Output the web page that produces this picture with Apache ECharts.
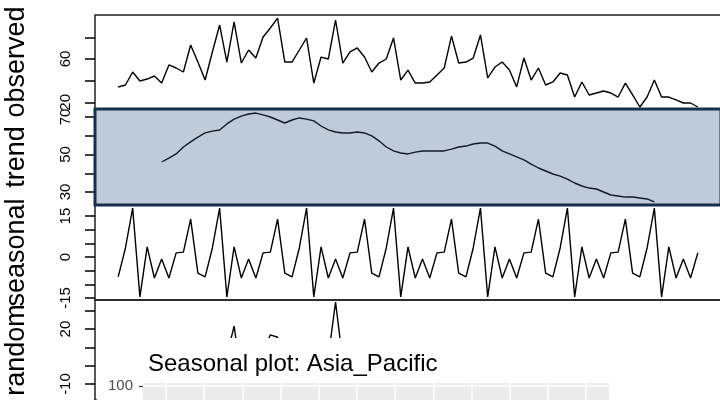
<!DOCTYPE html>
<html><head><meta charset="utf-8">
<script src="https://cdn.jsdelivr.net/npm/echarts@6/dist/echarts.min.js"></script>
<style>html,body{margin:0;padding:0;background:#fff}#c{width:720px;height:400px}</style>
</head><body><div id="c"></div>
<script>
// ---- data (monthly index 0..80) ----
const observed = [34.2, 36.0, 48.0, 39.7, 41.5, 44.3, 37.8, 54.5, 51.7, 48.0,
 72.9, 57.2, 40.6, 66.5, 91.4, 57.2, 94.2, 56.3, 68.3, 60.9,
 80.3, 88.6, 97.8, 57.2, 57.2, 68.3, 79.4, 37.8, 61.8, 60.0,
 96.0, 56.3, 66.5, 70.2, 61.8, 48.0, 56.3, 60.0, 79.4, 40.6,
 49.8, 37.8, 37.8, 38.8, 45.2, 51.7, 81.2, 56.3, 57.2, 60.9,
 82.2, 42.5, 52.6, 57.2, 49.8, 34.2, 60.9, 40.6, 51.7, 36.0,
 38.8, 47.1, 45.2, 24.9, 38.8, 26.8, 28.6, 30.5, 28.6, 24.9,
 37.8, 26.8, 15.7, 24.9, 40.6, 24.9, 24.9, 22.2, 19.4, 19.4, 15.7];
const trend = [null, null, null, null, null, null,
 46.0, 48.1, 50.3, 54.0, 56.7, 59.3, 61.5, 62.5, 63.1, 66.3,
 68.9, 70.5, 71.6, 72.1, 71.1, 70.0, 68.4, 66.8, 68.4, 69.5,
 68.9, 67.9, 65.2, 63.1, 62.0, 61.5, 61.5, 62.0, 61.5, 59.9,
 57.3, 54.0, 51.9, 50.8, 50.3, 51.3, 51.9, 51.9, 51.9, 51.9,
 52.9, 54.0, 54.5, 55.6, 56.1, 56.1, 54.5, 51.9, 50.3, 48.7,
 47.1, 44.9, 42.8, 41.2, 39.6, 38.5, 36.9, 34.8, 33.2, 32.1,
 31.6, 30.0, 28.4, 27.9, 27.3, 27.3, 26.8, 26.3, 24.7,
 null, null, null, null, null, null];
const seasonal = [
 -7.3, 3.3, 17.9, -14.6, 3.7, -7.7, -0.7, -7.7, 1.5, 1.8, 13.9, -5.9,
 -7.3, 3.3, 17.9, -14.6, 3.7, -7.7, -0.7, -7.7, 1.5, 1.8, 13.9, -5.9,
 -7.3, 3.3, 17.9, -14.6, 3.7, -7.7, -0.7, -7.7, 1.5, 1.8, 13.9, -5.9,
 -7.3, 3.3, 17.9, -14.6, 3.7, -7.7, -0.7, -7.7, 1.5, 1.8, 13.9, -5.9,
 -7.3, 3.3, 17.9, -14.6, 3.7, -7.7, -0.7, -7.7, 1.5, 1.8, 13.9, -5.9,
 -7.3, 3.3, 17.9, -14.6, 3.7, -7.7, -0.7, -7.7, 1.5, 1.8, 13.9, -5.9,
 -7.3, 3.3, 17.9, -14.6, 3.7, -7.7, -0.7, -7.7, 1.5];
const random = [null, null, null, null, null, null,
 -7.5, 14.1, -0.1, -7.8, 2.3, 3.8, -13.6, 0.7, 10.4, 5.5,
 21.6, -6.5, -2.6, -3.5, 7.7, 16.8, 15.5, -3.7, -3.9, -4.5,
 -7.4, -15.5, -7.1, 4.6, 34.7, 2.5, 3.5, 6.4, -13.6, -6.0,
 6.3, 2.7, 9.6, 4.4, -4.2, -5.8, -13.4, -5.4, -8.2, -2.0,
 14.4, 8.2, 10.0, 2.0, 8.2, 1.0, -5.6, 13.0, 0.2, -6.8,
 12.3, -6.1, -5.0, 0.7, 6.5, 5.3, -9.6, 4.7, 1.9, 2.4,
 -2.3, 8.2, -1.3, -4.8, -3.4, 5.4, -3.8, -4.7, -2.0,
 null, null, null, null, null, null];
// tick values / labels
const obsTicks = [20, 40, 60, 80], obsLabels = [20, 60];
const trendTicks = [30, 40, 50, 60, 70], trendLabels = [30, 50, 70];
const seasTicks = [-15, -10, -5, 0, 5, 10, 15], seasLabels = [-15, 0, 15];
const randTicks = [-10, 0, 10, 20, 30], randLabels = [-10, 20];
const months = [1, 2, 3, 4, 5, 6, 7, 8, 9, 10, 11, 12];
const spTicks = [100];
const panelNames = ['observed', 'trend', 'seasonal', 'random'];

const FF = '"Liberation Sans", Arial, sans-serif';
const toPairs = a => a.map((v, i) => [i, v]);

const L = 95, W = 626;
const G = {show: true, outerBoundsMode: 'none', containLabel: false};
const grids = [
  Object.assign({left: L, top: 15, width: W, height: 94, borderColor: '#222', borderWidth: 1.5}, G),
  Object.assign({left: L, top: 109, width: W, height: 96, backgroundColor: '#c0cbd9', borderColor: '#15304f', borderWidth: 3, z: 1}, G),
  Object.assign({left: L, top: 205, width: W, height: 95, borderColor: '#222', borderWidth: 1.5}, G),
  Object.assign({left: L, top: 300, width: W, height: 100, borderColor: '#222', borderWidth: 1.5}, G),
  Object.assign({left: 143, top: 383, width: 466, height: 93, backgroundColor: '#ebebeb', borderWidth: 0, z: 150}, G)
];
function xA(g) {
  return {type: 'value', gridIndex: g, min: -3.2, max: 83.2, show: false};
}
function rY(g, min, max, ticks, labels, name) {
  return {
    type: 'value', gridIndex: g, min, max, position: 'left',
    axisLine: {show: false, onZero: false}, splitLine: {show: false},
    axisTick: {show: true, length: 10, customValues: ticks, lineStyle: {color: '#000', width: 1.5}},
    axisLabel: {show: true, rotate: 90, margin: 22, fontSize: 15, color: '#000', fontFamily: FF, customValues: labels},
    name, nameLocation: 'middle', nameGap: 65, nameRotate: 90,
    nameTextStyle: {fontSize: 27, color: '#000', fontFamily: FF}
  };
}
const lineS = (xi, data, color) => ({
  type: 'line', xAxisIndex: xi, yAxisIndex: xi, data: toPairs(data), showSymbol: false,
  lineStyle: {color, width: 1.4}, clip: true, animation: false, z: 2
});

const option = {
  animation: false,
  title: {text: 'Seasonal plot: Asia_Pacific', left: 143, top: 347, z: 160,
    textStyle: {fontSize: 24, fontWeight: 'normal', color: '#000', fontFamily: FF}},
  grid: grids,
  xAxis: [xA(0), xA(1), xA(2), xA(3),
    {type: 'value', gridIndex: 4, min: 0.4, max: 12.6, z: 150,
     axisLine: {show: false}, axisTick: {show: false, customValues: months},
     axisLabel: {show: false, customValues: months},
     splitLine: {show: true, lineStyle: {color: '#fff', width: 1.5}}}],
  yAxis: [
    rY(0, 13.85, 100.62, obsTicks, obsLabels, panelNames[0]),
    rY(1, 23.07, 74.27, trendTicks, trendLabels, panelNames[1]),
    rY(2, -15.75, 19.05, seasTicks, seasLabels, panelNames[2]),
    rY(3, -18.71, 35.84, randTicks, randLabels, panelNames[3]),
    {type: 'value', gridIndex: 4, min: 40, max: 102, z: 150,
     axisLine: {show: false, onZero: false},
     axisTick: {show: true, length: 4, customValues: spTicks, lineStyle: {color: '#333', width: 1.2}},
     axisLabel: {show: true, margin: 10, fontSize: 15, color: '#4d4d4d', fontFamily: FF, customValues: spTicks},
     splitLine: {show: true, lineStyle: {color: '#fff', width: 1.5}}}
  ],
  graphic: [{type: 'rect', shape: {x: 97, y: 338, width: 630, height: 70}, style: {fill: '#fff'}, z: 100, silent: true}],
  series: [
    lineS(0, observed, '#000'),
    lineS(1, trend, '#111a26'),
    lineS(2, seasonal, '#000'),
    lineS(3, random, '#000')
  ]
};
const chart = echarts.init(document.getElementById('c'), null, {renderer: 'canvas'});
chart.setOption(option);
</script></body></html>
